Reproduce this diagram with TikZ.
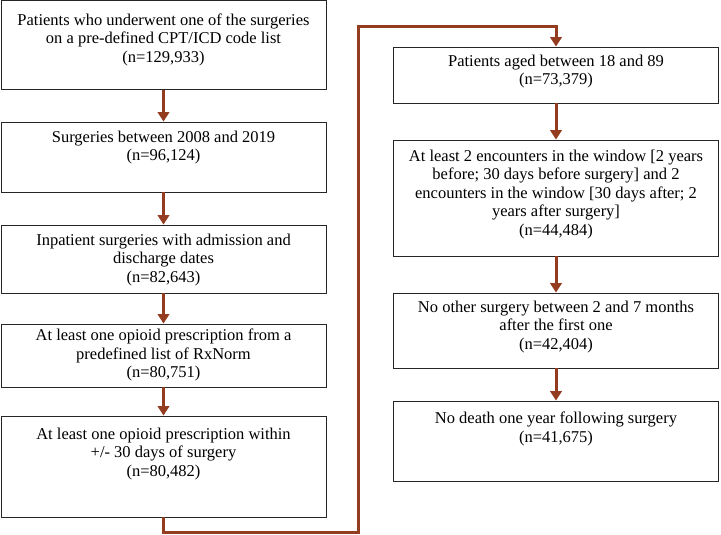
\documentclass[tikz,border=0pt]{standalone}
\usepackage{fontspec}
\setmainfont{Liberation Serif}
\usepackage{tikz}
\usetikzlibrary{arrows.meta}
\definecolor{flowred}{RGB}{148,60,32}

% box text: top padding, height, lines
\newcommand{\flowtext}[3][10pt]{\parbox[c][#2][t]{325pt}{\centering\vspace*{#1}#3}}

\tikzset{
  flowbox/.style={draw=black!85, line width=0.9pt, inner sep=0pt, font=\fontsize{16.5}{18.5}\selectfont},
  flowarrow/.style={draw=flowred, line width=3pt, -{Triangle[width=11.5pt,length=9.5pt]}}
}

\begin{document}
\begin{tikzpicture}[x=1pt,y=-1pt]
	\useasboundingbox (0,0) rectangle (721,535);
	% left column
	\node[flowbox] (cohort) at (163.5,45.2) {\flowtext[13pt]{89.5pt}{Patients who underwent one of the surgeries\\on a pre-defined CPT/ICD code list\\(n=129,933)}};
	\node[flowbox] (years) at (163.5,157) {\flowtext[9pt]{70pt}{Surgeries between 2008 and 2019\\(n=96,124)}};
	\node[flowbox] (inpat) at (163.5,259) {\flowtext[9pt]{68pt}{Inpatient surgeries with admission and\\discharge dates\\(n=82,643)}};
	\node[flowbox] (rxnorm) at (163.5,355.5) {\flowtext[5pt]{63pt}{At least one opioid prescription from a\\predefined list of RxNorm\\(n=80,751)}};
	\node[flowbox] (window) at (163.5,466.5) {\flowtext[12pt]{101pt}{At least one opioid prescription within\\+/- 30 days of surgery\\(n=80,482)}};
	% right column
	\node[flowbox] (aged) at (556,75) {\flowtext[8pt]{56pt}{Patients aged between 18 and 89\\(n=73,379)}};
	\node[flowbox] (encount) at (556,198) {\flowtext[10pt]{116pt}{At least 2 encounters in the window [2 years\\before; 30 days before surgery] and 2\\encounters in the window [30 days after; 2\\years after surgery]\\(n=44,484)}};
	\node[flowbox] (nosurg) at (556,330.5) {\flowtext[8pt]{75pt}{No other surgery between 2 and 7 months\\after the first one\\(n=42,404)}};
	\node[flowbox] (alive) at (556,441) {\flowtext[11pt]{80pt}{No death one year following surgery\\(n=41,675)}};
	% arrows
	\draw[flowarrow] (cohort) -- (years);
	\draw[flowarrow] (years) -- (inpat);
	\draw[flowarrow] (inpat) -- (rxnorm);
	\draw[flowarrow] (rxnorm) -- (window);
	\coordinate (lowturn) at (358,532);
	\coordinate (highturn) at (358,27);
	\draw[flowarrow] (window.south) |- (lowturn) -- (highturn) -| (aged.north);
	\draw[flowarrow] (aged) -- (encount);
	\draw[flowarrow] (encount) -- (nosurg);
	\draw[flowarrow] (nosurg) -- (alive);
\end{tikzpicture}
\end{document}
